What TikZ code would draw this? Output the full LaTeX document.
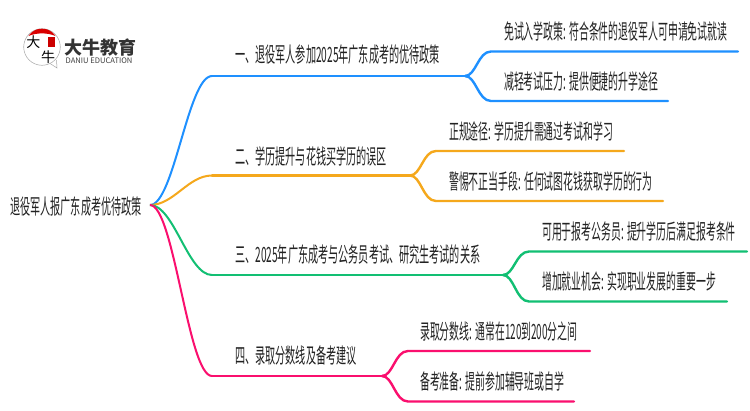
\documentclass[tikz,border=0pt]{standalone}
\usepackage{fontspec}
\usepackage{graphicx}
\usetikzlibrary{calc}
\setmainfont{Noto Sans CJK SC}
\newcommand\sqz[1]{\scalebox{.482}[1]{#1}}
\newcommand\sqy[1]{\scalebox{.471}[1]{#1}}
\definecolor{cblue}{HTML}{1E90FF}
\definecolor{corange}{HTML}{F5A81C}
\definecolor{cgreen}{HTML}{12BF73}
\definecolor{cpink}{HTML}{FA0F6E}
\definecolor{ctext}{HTML}{222222}
\tikzset{
  lab/.style={anchor=west,inner sep=0pt,text=ctext,font=\fontsize{21}{22}\selectfont},
  wire/.style={line width=2.4pt,line cap=round},
  stem/.style={line width=2pt},
}
\begin{document}
\begin{tikzpicture}[x=1pt,y=-1pt]
\useasboundingbox (0,0) rectangle (750,410);
% logo
\fill[white] (0,0) rectangle (750,410);
\draw[black!35,line width=.5pt] (42,47) circle (18.3);
\draw[black!35,line width=.5pt] (50,63.5) -- (57,68) -- (56.5,60);
\fill[red!85!black] (28.5,36) .. controls (33,29.5) and (38,28.7) .. (42,28.7) .. controls (46,28.7) and (51,29.5) .. (55.5,36) .. controls (47,32.5) and (37,32.5) .. (28.5,36) -- cycle;
\fill[red!80!black] (48,37) rectangle (55,47);
\node[inner sep=0pt,font=\fontsize{14}{14}\selectfont,text=black] (logoa) at (33.5,42.5) {大};
\node[inner sep=0pt,font=\fontsize{14}{14}\selectfont,text=black] (logob) at (48,57.5) {牛};
\node[inner sep=0pt,font=\bfseries\fontsize{18}{18}\selectfont,text=black!80,anchor=west] (logoc) at (64,47.5) {大牛教育};
\node[inner sep=0pt,font=\fontsize{7.6}{8}\selectfont,text=black!75,anchor=west] (logod) at (65.5,60.5) {DANIU EDUCATION};
% root
\node[lab] (root) at (10,207) {\sqz{退役军人报广东成考优待政策}};
\coordinate (o) at (150,205);
% titles
\node[lab] (t1) at (235,55) {\sqz{一、退役军人参加2025年广东成考的优待政策}};
\node[lab] (t2) at (235,156) {\sqz{二、学历提升与花钱买学历的误区}};
\node[lab] (t3) at (235,255) {\sqz{三、2025年广东成考与公务员考试、研究生考试的关系}};
\node[lab] (t4) at (235,356) {\sqz{四、录取分数线及备考建议}};
% leaves
\node[lab] (l11) at (504,31) {\sqy{免试入学政策: 符合条件的退役军人可申请免试就读}};
\node[lab] (l12) at (504,81) {\sqy{减轻考试压力: 提供便捷的升学途径}};
\node[lab] (l21) at (449,131) {\sqy{正规途径: 学历提升需通过考试和学习}};
\node[lab] (l22) at (449,181) {\sqy{警惕不正当手段: 任何试图花钱获取学历的行为}};
\node[lab] (l31) at (542,231) {\sqy{可用于报考公务员: 提升学历后满足报考条件}};
\node[lab] (l32) at (542,281) {\sqy{增加就业机会: 实现职业发展的重要一步}};
\node[lab] (l41) at (420,331) {\sqy{录取分数线: 通常在120到200分之间}};
\node[lab] (l42) at (420,381) {\sqy{备考准备: 提前参加辅导班或自学}};
% junctions and ends
\coordinate (a1) at (212,76); \coordinate (j1) at (465,76);
\coordinate (a2) at (212,175.5); \coordinate (j2) at (410,175.5);
\coordinate (a3) at (212,275); \coordinate (j3) at (503,275);
\coordinate (a4) at (212,376); \coordinate (j4) at (382,376);
\coordinate (s11) at (491,51.5); \coordinate (e11) at (738,51.5);
\coordinate (s12) at (491,101); \coordinate (e12) at (668,101);
\coordinate (s21) at (436,151); \coordinate (e21) at (624,151);
\coordinate (s22) at (436,201); \coordinate (e22) at (663,201);
\coordinate (s31) at (529,251.5); \coordinate (e31) at (747,251.5);
\coordinate (s32) at (529,301.5); \coordinate (e32) at (727,301.5);
\coordinate (s41) at (408,351); \coordinate (e41) at (590,351);
\coordinate (s42) at (408,401.5); \coordinate (e42) at (574,401.5);
% branches
\foreach \c/\n in {cblue/1,corange/2,cgreen/3,cpink/4}{
  \draw[\c,stem] (o) .. controls ($(o)+(24,0)$) and ($(a\n)+(-24,0)$) .. (a\n);
  \draw[\c,wire] (a\n) -- (j\n);
  \draw[\c,wire] (j\n) .. controls ($(j\n)+(11,0)$) and ($(s\n1)+(-13,0)$) .. (s\n1) -- (e\n1);
  \draw[\c,wire] (j\n) .. controls ($(j\n)+(11,0)$) and ($(s\n2)+(-13,0)$) .. (s\n2) -- (e\n2);
}
\end{tikzpicture}
\end{document}
